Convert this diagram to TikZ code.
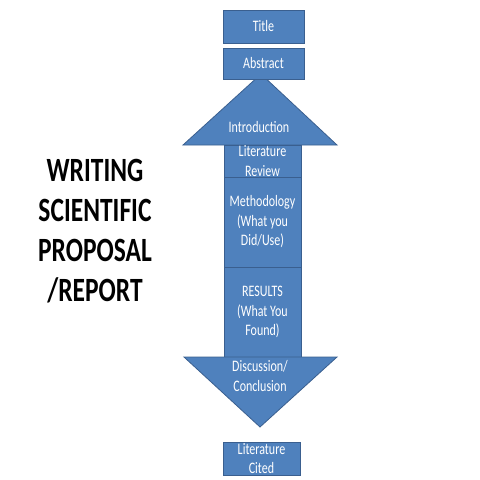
\documentclass[tikz,border=0pt]{standalone}
\usepackage{fontspec}
\setmainfont{Carlito}[FakeStretch=0.75]
\definecolor{blu}{HTML}{4F81BD}
\definecolor{bdr}{HTML}{3A5F8F}
\begin{document}
\begin{tikzpicture}[x=1pt,y=-1pt,
  shp/.style={draw=bdr, fill=blu, line width=0.8pt},
  box/.style={shp, text=white, align=center, inner sep=0pt,
    font=\fontsize{16}{19.5}\selectfont},
  lbl/.style={text=white, align=center, inner sep=0pt,
    font=\fontsize{16}{19.5}\selectfont},
  headline/.style={align=center, inner sep=0pt,
    font=\fontsize{34}{40}\selectfont\bfseries}]
\useasboundingbox (0,0) rectangle (480,480);
% up arrow head
\coordinate (ul) at (183,145);
\coordinate (ua) at (261,74);
\coordinate (ur) at (337,145);
\draw[shp] (ul) -- (ua) -- (ur) -- cycle;
% stem boxes
\node[box, minimum width=77pt, minimum height=32pt] (lit) at (262.5,161) {Literature\\Review};
\node[box, minimum width=77pt, minimum height=90pt] (meth) at (262.5,222) {Methodology\\(What you\\Did/Use)};
\node[box, minimum width=77pt, minimum height=90pt] (res) at (262.5,312) {RESULTS\\(What You\\Found)};
% down arrow head
\coordinate (dl) at (184,357);
\coordinate (dr) at (337,357);
\coordinate (da) at (260,427);
\draw[shp] (dl) -- (dr) -- (da) -- cycle;
\node[lbl] (intro) at (259,127) {Introduction};
\node[lbl] (disc) at (260,376) {Discussion/\\Conclusion};
% top boxes
\node[box, minimum width=81pt, minimum height=33pt] (title) at (263.5,26.5) {Title};
\node[box, minimum width=81pt, minimum height=31pt] (abs) at (263.5,63.5) {Abstract};
\node[box, minimum width=77pt, minimum height=33pt] (cited) at (261.5,458.5) {Literature\\Cited};
% headline
\node[headline, anchor=north] (head) at (95,159) {WRITING\\SCIENTIFIC\\PROPOSAL\\/REPORT};
\end{tikzpicture}
\end{document}
